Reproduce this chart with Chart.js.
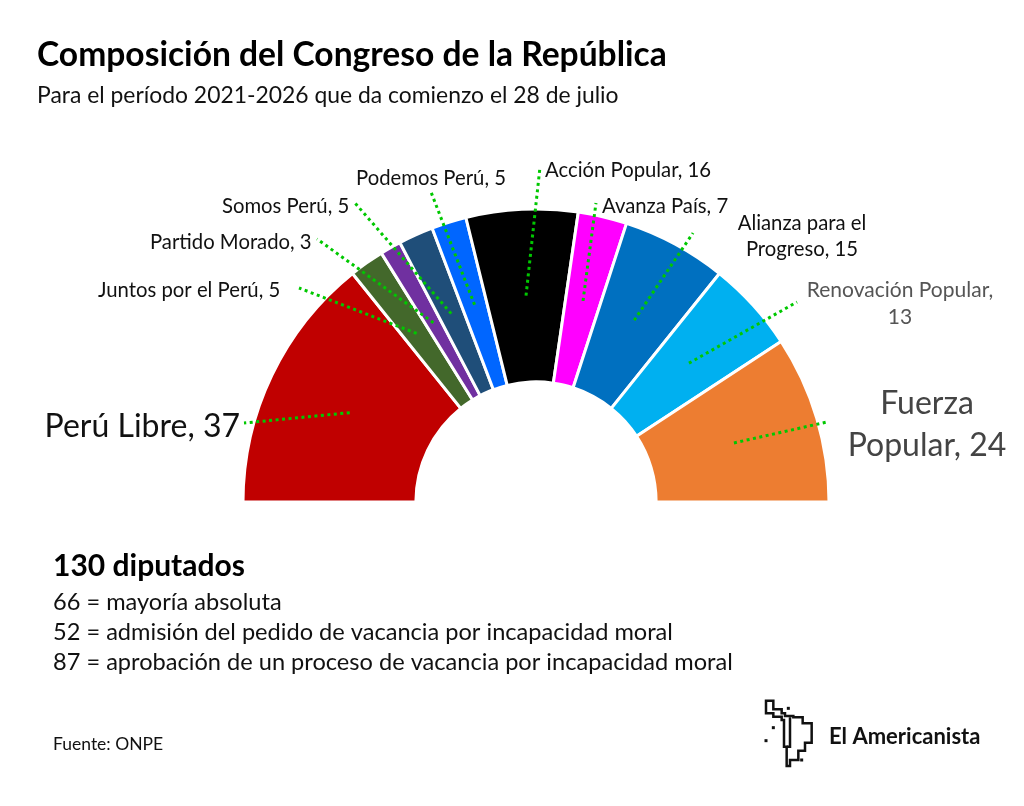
<!DOCTYPE html>
<html>
<head>
<meta charset="utf-8">
<script src="https://cdn.jsdelivr.net/npm/chart.js@4.4.0/dist/chart.umd.min.js"></script>
<style>
  body { margin: 0; background: #fff; }
  canvas { display: block; }
</style>
</head>
<body>
<canvas id="chart" width="1024" height="806"></canvas>
<script>
// Datos: escaños por partido, de izquierda a derecha en el hemiciclo
var partidos = ['Perú Libre', 'Juntos por el Perú', 'Partido Morado', 'Somos Perú', 'Podemos Perú',
  'Acción Popular', 'Avanza País', 'Alianza para el Progreso', 'Renovación Popular', 'Fuerza Popular'];
var escanos = [37, 5, 3, 5, 5, 16, 7, 15, 13, 24];
var colores = ['#C00000', '#43682B', '#7030A0', '#1F4E79', '#0066FF',
  '#000000', '#FF00FF', '#0070C0', '#00B0F0', '#ED7D31'];

var titulo = 'Composición del Congreso de la República';
var subtitulo = 'Para el período 2021-2026 que da comienzo el 28 de julio';
var totalTexto = '130 diputados';
var notas = [
  '66 = mayoría absoluta',
  '52 = admisión del pedido de vacancia por incapacidad moral',
  '87 = aprobación de un proceso de vacancia por incapacidad moral'
];
var fuente = 'Fuente: ONPE';

var FONT = 'Lato, "Noto Sans", sans-serif';

// Etiqueta de cada partido: texto, dónde se escribe y dónde termina la línea punteada
var etiquetas = [
  { lines: [partidos[0] + ', ' + escanos[0]], x: 240, y: 437, align: 'right', size: 32, color: '#111', end: [244, 423] },
  { lines: [partidos[1] + ', ' + escanos[1]], x: 98, y: 297, align: 'left', size: 20.3, color: '#111', end: [299, 288] },
  { lines: [partidos[2] + ', ' + escanos[2]], x: 150, y: 249, align: 'left', size: 20.3, color: '#111', end: [317, 239] },
  { lines: [partidos[3] + ', ' + escanos[3]], x: 222, y: 213, align: 'left', size: 20.3, color: '#111', end: [355, 203] },
  { lines: [partidos[4] + ', ' + escanos[4]], x: 356, y: 185, align: 'left', size: 20.3, color: '#111', end: [431, 192] },
  { lines: [partidos[5] + ', ' + escanos[5]], x: 545, y: 177, align: 'left', size: 20.3, color: '#111', end: [540, 167] },
  { lines: [partidos[6] + ', ' + escanos[6]], x: 602, y: 213, align: 'left', size: 20.3, color: '#111', end: [596, 203] },
  { lines: ['Alianza para el', 'Progreso, ' + escanos[7]], x: 802, y: 230, align: 'center', size: 20.3, lh: 26, color: '#111', end: [693, 233] },
  { lines: ['Renovación Popular,', '' + escanos[8]], x: 900, y: 297, align: 'center', size: 21, lh: 27, color: '#555', end: [797, 302] },
  { lines: ['Fuerza', 'Popular, ' + escanos[9]], x: 927, y: 414, align: 'center', size: 32, lh: 42, color: '#444', end: [827, 422] }
];

var textos = {
  id: 'textos',
  afterDraw: function (chart) {
    var ctx = chart.ctx;
    var arcs = chart.getDatasetMeta(0).data;
    ctx.save();

    // líneas punteadas desde el centro de cada porción
    ctx.strokeStyle = '#00C800';
    ctx.lineWidth = 3;
    ctx.setLineDash([3, 3.5]);
    arcs.forEach(function (arc, i) {
      var p = arc.getCenterPoint();
      var e = etiquetas[i].end;
      ctx.beginPath();
      ctx.moveTo(p.x, p.y);
      ctx.lineTo(e[0], e[1]);
      ctx.stroke();
    });
    ctx.setLineDash([]);

    // etiquetas
    ctx.textBaseline = 'alphabetic';
    etiquetas.forEach(function (l) {
      ctx.font = l.size + 'px ' + FONT;
      ctx.fillStyle = l.color;
      ctx.textAlign = l.align;
      l.lines.forEach(function (t, k) {
        ctx.fillText(t, l.x, l.y + k * (l.lh || 0));
      });
    });

    // título y notas
    ctx.textAlign = 'left';
    ctx.fillStyle = '#000';
    ctx.font = 'bold 33.6px ' + FONT;
    ctx.fillText(titulo, 37, 66);
    ctx.fillStyle = '#111';
    ctx.font = '22.9px ' + FONT;
    ctx.fillText(subtitulo, 37, 103);

    ctx.fillStyle = '#000';
    ctx.font = 'bold 30px ' + FONT;
    ctx.fillText(totalTexto, 53, 576);
    ctx.fillStyle = '#111';
    ctx.font = '23.6px ' + FONT;
    notas.forEach(function (t, k) {
      ctx.fillText(t, 53, 610 + k * 30);
    });
    ctx.font = '17.5px ' + FONT;
    ctx.fillText(fuente, 53, 750);

    // logo
    var ox = 740, oy = 680, s = 1 / 3;
    var mapa = [[78,62],[100,62],[100,88],[125,88],[125,100],[135,100],[135,108],[160,108],[160,112],
      [188,112],[188,130],[215,130],[215,188],[195,188],[195,212],[175,212],[175,240],[150,240],
      [150,258],[140,258],[140,200],[132,200],[132,120],[125,120],[125,110],[100,110],[100,100],[78,100]];
    ctx.strokeStyle = '#111';
    ctx.lineWidth = 2.5;
    ctx.beginPath();
    mapa.forEach(function (p, k) {
      var x = ox + p[0] * s, y = oy + p[1] * s;
      if (k === 0) ctx.moveTo(x, y); else ctx.lineTo(x, y);
    });
    ctx.closePath();
    ctx.stroke();
    ctx.beginPath();
    ctx.moveTo(ox + 150 * s, oy + 112 * s);
    ctx.lineTo(ox + 150 * s, oy + 200 * s);
    ctx.lineTo(ox + 140 * s, oy + 200 * s);
    ctx.stroke();
    ctx.fillStyle = '#111';
    [[145,85],[100,143],[78,182],[185,240]].forEach(function (p) {
      ctx.fillRect(ox + p[0] * s - 1.5, oy + p[1] * s - 1.5, 3, 3);
    });
    ctx.font = 'bold 22px ' + FONT;
    ctx.fillText('El Americanista', 829, 744);

    ctx.restore();
  }
};

var ctx = document.getElementById('chart').getContext('2d');
var chart = new Chart(ctx, {
  type: 'doughnut',
  data: {
    labels: partidos,
    datasets: [{
      data: escanos,
      backgroundColor: colores,
      borderColor: '#ffffff',
      borderWidth: 3
    }]
  },
  options: {
    responsive: false,
    animation: false,
    rotation: -90,
    circumference: 180,
    cutout: '41%',
    layout: { padding: { left: 241.5, right: 193.5, top: 207.5, bottom: 302.5 } },
    plugins: {
      legend: { display: false },
      tooltip: { enabled: false }
    }
  },
  plugins: [textos]
});
</script>
</body>
</html>
